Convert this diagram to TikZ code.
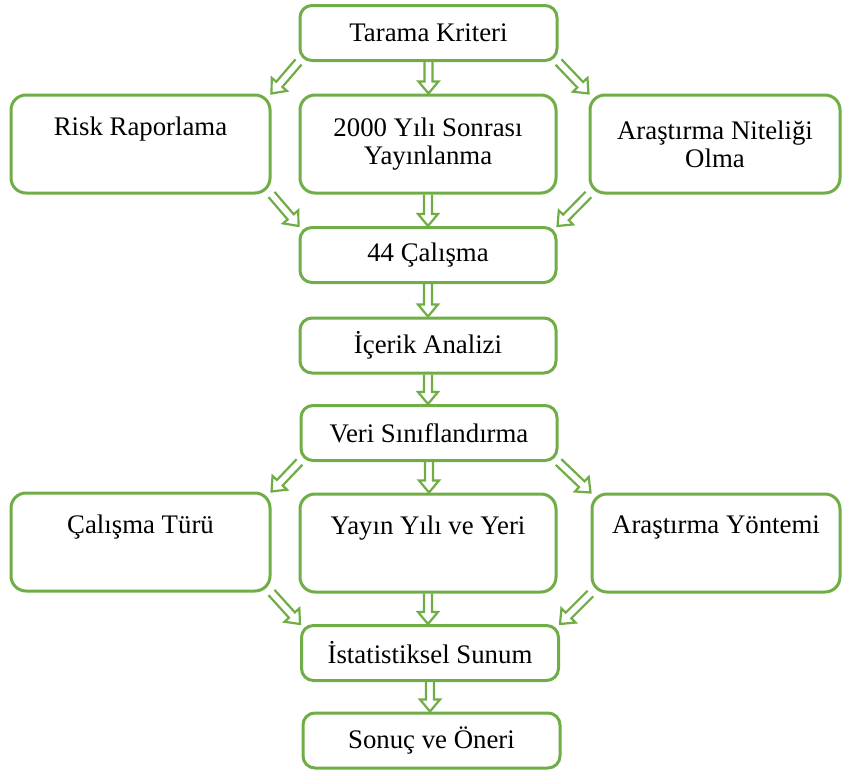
\documentclass[tikz,border=0pt]{standalone}
\usepackage{fontspec}
\setmainfont{Liberation Serif}
\usepackage{tikz}
\usetikzlibrary{calc}
\definecolor{boxgreen}{RGB}{112,173,71}
\tikzset{
  box/.style={draw=boxgreen, line width=1.5pt, rounded corners=6pt, fill=white,
    align=center, inner sep=0pt, font=\fontsize{13.4}{14}\selectfont},
  smallbox/.style={box, minimum width=128pt, minimum height=27.5pt},
  tallbox/.style={box, minimum width=128pt, minimum height=49pt, rounded corners=7.5pt},
  flowarrow/.style={draw=boxgreen, line width=1.1pt, line join=miter},
}
% hollow block arrow from #1 to #2
\newcommand{\hollowarrow}[2]{%
  \draw[flowarrow] let \p1=($#2-#1$), \n1={atan2(\y1,\x1)}, \n2={veclen(\x1,\y1)}, \n3={\n2-6pt} in
    [shift={#1}, rotate=\n1]
    (0pt,2pt) -- (\n3,2pt) -- (\n3,5pt) -- (\n2,0pt) -- (\n3,-5pt) -- (\n3,-2pt) -- (0pt,-2pt);
}

\begin{document}
\begin{tikzpicture}[x=0.5pt, y=-0.5pt]
        \useasboundingbox (0,0) rectangle (842,771);

        % Boxes
        \node[smallbox, minimum width=128.5pt] (tarama) at (428.5,33) {Tarama Kriteri};
        \node[tallbox, minimum width=129.5pt] (risk) at (140.5,144) {Risk Raporlama\\ \strut};
        \node[tallbox] (yayin) at (428,144) {2000 Yılı Sonrası\\Yayınlanma};
        \node[tallbox, minimum width=125pt] (nitelik) at (715,144) {Araştırma Niteliği\\Olma};
        \node[smallbox] (calisma) at (428,255) {44 Çalışma};
        \node[smallbox] (icerik) at (428,345.5) {İçerik Analizi};
        \node[smallbox] (veri) at (429,433) {Veri Sınıflandırma};
        \node[tallbox, minimum width=129.5pt] (tur) at (140.5,542) {Çalışma Türü\\ \strut};
        \node[tallbox] (yil) at (428,543) {Yayın Yılı ve Yeri\\ \strut};
        \node[tallbox, minimum width=124pt] (yontem) at (716,543) {Araştırma Yöntemi\\ \strut};
        \node[smallbox, minimum width=128.5pt] (sunum) at (430,653) {İstatistiksel Sunum};
        \node[smallbox, minimum width=128.5pt] (sonuc) at (431.5,740.5) {Sonuç ve Öneri};

        % Arrows
        \hollowarrow{(tarama.south west)}{(risk.north east)}
        \hollowarrow{(tarama.south)}{(tarama.south |- yayin.north)}
        \hollowarrow{(tarama.south east)}{(nitelik.north west)}
        \hollowarrow{(risk.south east)}{(calisma.north west)}
        \hollowarrow{(yayin.south)}{(yayin.south |- calisma.north)}
        \hollowarrow{(nitelik.south west)}{(calisma.north east)}
        \hollowarrow{(calisma.south)}{(calisma.south |- icerik.north)}
        \hollowarrow{(icerik.south)}{(icerik.south |- veri.north)}
        \hollowarrow{(veri.south west)}{(tur.north east)}
        \hollowarrow{(veri.south)}{(veri.south |- yil.north)}
        \hollowarrow{(veri.south east)}{(yontem.north west)}
        \hollowarrow{(tur.south east)}{(sunum.north west)}
        \hollowarrow{(yil.south)}{(yil.south |- sunum.north)}
        \hollowarrow{(yontem.south west)}{(sunum.north east)}
        \hollowarrow{(sunum.south)}{(sunum.south |- sonuc.north)}

      \end{tikzpicture}
\end{document}
